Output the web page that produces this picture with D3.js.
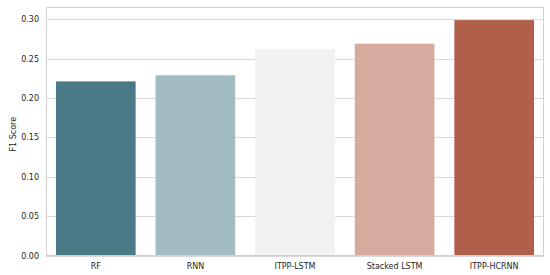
<!DOCTYPE html>
<html>
<head>
<meta charset="utf-8">
<script src="https://cdn.jsdelivr.net/npm/d3@7"></script>
<style>
  body { margin: 0; background: #fff; }
  text { font-family: "DejaVu Sans", sans-serif; fill: #262626; }
</style>
</head>
<body>
<div id="chart"></div>
<script>
const models = ['RF', 'RNN', 'ITPP-LSTM', 'Stacked LSTM', 'ITPP-HCRNN'];
const f1Scores = [0.221, 0.2287, 0.262, 0.2688, 0.2988];
const barColors = ['#4a7a86', '#a2bac1', '#f1f1f1', '#d7aa9e', '#b0604a'];
const yTicks = [0, 0.05, 0.10, 0.15, 0.20, 0.25, 0.30];

const w = 550, h = 275;
const mg = { top: 7, right: 6, bottom: 20, left: 46 };

const svg = d3.select('#chart')
  .append('svg')
  .attr('width', w)
  .attr('height', h);

const x = d3.scaleBand()
  .domain(models)
  .range([mg.left, w - mg.right])
  .paddingInner(0.2)
  .paddingOuter(0.1);

const y = d3.scaleLinear()
  .domain([0, 0.3154])
  .range([h - mg.bottom + 0.5, mg.top]);

// grid lines
svg.append('g')
  .selectAll('line')
  .data(yTicks)
  .enter().append('line')
  .attr('x1', mg.left)
  .attr('x2', w - mg.right)
  .attr('y1', d => Math.round(y(d)) + 0.5)
  .attr('y2', d => Math.round(y(d)) + 0.5)
  .style('stroke', '#d9d9d9')
  .style('stroke-width', 1);

// bars
svg.append('g')
  .selectAll('rect')
  .data(f1Scores)
  .enter().append('rect')
  .attr('x', (d, i) => x(models[i]))
  .attr('y', d => y(d))
  .attr('width', x.bandwidth())
  .attr('height', d => y(0) - y(d))
  .style('fill', (d, i) => barColors[i]);

// frame
svg.append('rect')
  .attr('x', mg.left + 0.5)
  .attr('y', mg.top + 0.5)
  .attr('width', w - mg.right - mg.left - 1)
  .attr('height', y(0) - mg.top - 0.5)
  .style('fill', 'none')
  .style('stroke', '#d0d0d0')
  .style('stroke-width', 1);

// y axis
const yAxis = svg.append('g')
  .attr('transform', `translate(${mg.left},0)`)
  .call(d3.axisLeft(y).tickValues(yTicks).tickFormat(d3.format('.2f')).tickSize(0).tickPadding(7));
yAxis.select('.domain').remove();
yAxis.selectAll('text').style('font-size', '8px');

// x axis
const xAxis = svg.append('g')
  .attr('transform', `translate(0,${y(0)})`)
  .call(d3.axisBottom(x).tickSize(0).tickPadding(8));
xAxis.select('.domain').remove();
xAxis.selectAll('text').style('font-size', '8px');

// y label
svg.append('text')
  .attr('transform', `translate(16,${(mg.top + y(0)) / 2 + 3}) rotate(-90)`)
  .style('text-anchor', 'middle')
  .style('font-size', '8px')
  .text('F1 Score');
</script>
</body>
</html>
